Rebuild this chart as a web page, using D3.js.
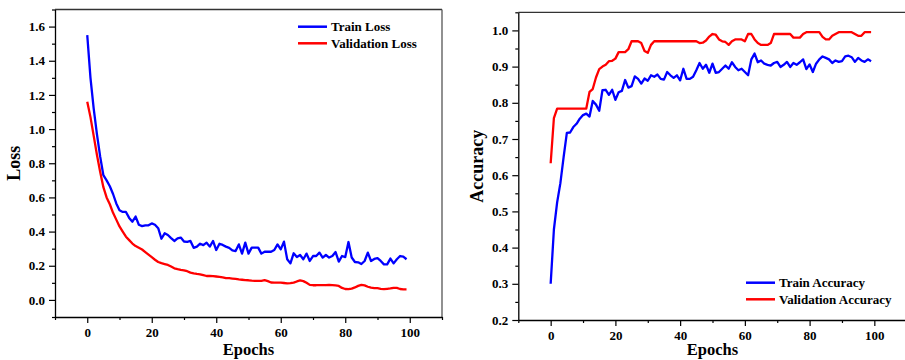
<!DOCTYPE html>
<html>
<head>
<meta charset="utf-8">
<script src="https://cdn.jsdelivr.net/npm/d3@7"></script>
<style>
  html, body { margin: 0; padding: 0; background: #fff; }
  svg { display: block; }
  text { font-family: "Liberation Serif", "Times New Roman", serif; font-weight: bold; fill: #000; }
</style>
</head>
<body>
<svg id="chart" width="905" height="360"></svg>
<script>
// Training history, one value per epoch (0..99)
const epochs = d3.range(0, 100);

const trainLoss = [
  1.55, 1.30, 1.12, 0.97, 0.84, 0.73, 0.70, 0.665, 0.62, 0.565,
  0.525, 0.515, 0.515, 0.48, 0.458, 0.488, 0.44, 0.432, 0.436, 0.437,
  0.448, 0.44, 0.42, 0.358, 0.39, 0.38, 0.362, 0.345, 0.36, 0.365,
  0.342, 0.34, 0.345, 0.305, 0.312, 0.329, 0.321, 0.335, 0.312, 0.345,
  0.292, 0.329, 0.322, 0.312, 0.305, 0.29, 0.286, 0.325, 0.271, 0.335,
  0.271, 0.306, 0.306, 0.306, 0.271, 0.282, 0.282, 0.282, 0.292, 0.325,
  0.296, 0.341, 0.238, 0.214, 0.273, 0.251, 0.263, 0.238, 0.271, 0.228,
  0.257, 0.257, 0.277, 0.248, 0.263, 0.248, 0.257, 0.28, 0.224, 0.257,
  0.251, 0.339, 0.248, 0.222, 0.22, 0.21, 0.228, 0.277, 0.228, 0.24,
  0.245, 0.228, 0.208, 0.208, 0.242, 0.214, 0.238, 0.257, 0.253, 0.238
];

const valLoss = [
  1.16, 1.07, 0.96, 0.85, 0.75, 0.66, 0.60, 0.56, 0.51, 0.47,
  0.43, 0.40, 0.37, 0.35, 0.33, 0.315, 0.305, 0.295, 0.28, 0.265,
  0.25, 0.235, 0.222, 0.215, 0.21, 0.205, 0.195, 0.185, 0.18, 0.176,
  0.173, 0.168, 0.16, 0.155, 0.152, 0.15, 0.145, 0.14, 0.14, 0.139,
  0.137, 0.135, 0.132, 0.128, 0.127, 0.125, 0.123, 0.12, 0.118, 0.116,
  0.115, 0.113, 0.112, 0.111, 0.112, 0.116, 0.11, 0.102, 0.101, 0.101,
  0.101, 0.099, 0.097, 0.098, 0.101, 0.108, 0.114, 0.11, 0.10, 0.088,
  0.086, 0.086, 0.087, 0.087, 0.086, 0.088, 0.087, 0.085, 0.082, 0.07,
  0.064, 0.063, 0.066, 0.073, 0.082, 0.088, 0.085, 0.077, 0.072, 0.069,
  0.069, 0.065, 0.063, 0.065, 0.067, 0.071, 0.07, 0.064, 0.062, 0.062
];

const trainAcc = [
  0.30, 0.45, 0.525, 0.578, 0.65, 0.717, 0.718, 0.733, 0.742, 0.756,
  0.766, 0.77, 0.762, 0.805, 0.795, 0.778, 0.835, 0.836, 0.822, 0.836,
  0.808, 0.829, 0.833, 0.863, 0.842, 0.846, 0.873, 0.866, 0.853, 0.867,
  0.861, 0.876, 0.872, 0.878, 0.866, 0.864, 0.885, 0.876, 0.869, 0.876,
  0.862, 0.894, 0.866, 0.866, 0.872, 0.89, 0.91, 0.894, 0.905, 0.883,
  0.908, 0.883, 0.885, 0.894, 0.903, 0.894, 0.912, 0.899, 0.89, 0.894,
  0.885, 0.876, 0.92, 0.936, 0.912, 0.917, 0.908, 0.905, 0.903, 0.91,
  0.913, 0.899, 0.905, 0.913, 0.899, 0.91, 0.905, 0.912, 0.92, 0.893,
  0.906, 0.885, 0.908, 0.92, 0.928, 0.924, 0.92, 0.91, 0.917, 0.913,
  0.915, 0.928, 0.93, 0.926, 0.913, 0.924, 0.917, 0.913, 0.92, 0.915
];

const valAcc = [
  0.633, 0.758, 0.784, 0.784, 0.784, 0.784, 0.784, 0.784, 0.784, 0.784,
  0.784, 0.784, 0.83, 0.838, 0.87, 0.893, 0.90, 0.905, 0.915, 0.916,
  0.922, 0.94, 0.94, 0.94, 0.948, 0.97, 0.97, 0.97, 0.965, 0.943,
  0.938, 0.96, 0.97, 0.97, 0.97, 0.97, 0.97, 0.97, 0.97, 0.97,
  0.97, 0.97, 0.97, 0.97, 0.97, 0.97, 0.965, 0.966, 0.972, 0.983,
  0.99, 0.988, 0.975, 0.97, 0.968, 0.96, 0.97, 0.975, 0.975, 0.975,
  0.97, 0.99, 0.99, 0.975, 0.965, 0.96, 0.96, 0.96, 0.965, 0.99,
  0.99, 0.99, 0.99, 0.99, 0.99, 0.98, 0.98, 0.98, 0.99, 0.995,
  0.995, 0.995, 0.995, 0.995, 0.982, 0.975, 0.975, 0.985, 0.99, 0.995,
  0.995, 0.995, 0.995, 0.995, 0.99, 0.985, 0.985, 0.995, 0.995, 0.995
];

const xTicks = [0, 20, 40, 60, 80, 100];
const xMinorTicks = [-10, 10, 30, 50, 70, 90, 110];
const lossTicks = [0.0, 0.2, 0.4, 0.6, 0.8, 1.0, 1.2, 1.4, 1.6];
const lossMinorTicks = [-0.1, 0.1, 0.3, 0.5, 0.7, 0.9, 1.1, 1.3, 1.5, 1.7];
const accTicks = [0.2, 0.3, 0.4, 0.5, 0.6, 0.7, 0.8, 0.9, 1.0];
const accMinorTicks = [0.25, 0.35, 0.45, 0.55, 0.65, 0.75, 0.85, 0.95, 1.05];

const BLUE = "#0000ff";
const RED = "#ff0000";

const svg = d3.select("#chart");

function drawPanel(cfg) {
  const { left, right, top, bottom, yDomain, yTicks, yMinor, yTitle, series, legend } = cfg;
  const x = d3.scaleLinear().domain([-10, 110]).range([left, right]);
  const y = d3.scaleLinear().domain(yDomain).range([bottom, top]);
  const g = svg.append("g");

  // frame: top and right edges
  g.append("line").attr("x1", left).attr("x2", right).attr("y1", top).attr("y2", top)
    .attr("stroke", "#333").attr("stroke-width", 1.3);
  g.append("line").attr("x1", right).attr("x2", right).attr("y1", top).attr("y2", bottom)
    .attr("stroke", "#555").attr("stroke-width", 1.3);

  // minor ticks
  g.append("g").attr("transform", `translate(0,${bottom})`)
    .call(d3.axisBottom(x).tickValues(xMinorTicks).tickSize(3).tickFormat(""))
    .call(a => a.select(".domain").remove())
    .call(a => a.selectAll("line").attr("stroke", "#000").attr("stroke-width", 1.2));
  g.append("g").attr("transform", `translate(${left},0)`)
    .call(d3.axisLeft(y).tickValues(yMinor).tickSize(3).tickFormat(""))
    .call(a => a.select(".domain").remove())
    .call(a => a.selectAll("line").attr("stroke", "#000").attr("stroke-width", 1.2));

  // major axes
  const xa = g.append("g").attr("transform", `translate(0,${bottom})`)
    .call(d3.axisBottom(x).tickValues(xTicks).tickSize(6).tickSizeOuter(0).tickPadding(5).tickFormat(d3.format("d")));
  const ya = g.append("g").attr("transform", `translate(${left},0)`)
    .call(d3.axisLeft(y).tickValues(yTicks).tickSize(6).tickSizeOuter(0).tickPadding(4).tickFormat(d3.format(".1f")));
  [xa, ya].forEach(a => {
    a.select(".domain").attr("stroke", "#000").attr("stroke-width", 1.3);
    a.selectAll(".tick line").attr("stroke", "#000").attr("stroke-width", 1.2);
    a.selectAll(".tick text").attr("font-family", "Liberation Serif").attr("font-weight", "bold")
      .attr("font-size", 13).attr("fill", "#000");
  });

  // axis titles
  g.append("text").attr("x", x(50)).attr("y", cfg.xTitleY)
    .attr("text-anchor", "middle").attr("font-size", 16.5).text("Epochs");
  g.append("text")
    .attr("transform", `translate(${cfg.yTitleX},${(top + bottom) / 2}) rotate(-90)`)
    .attr("text-anchor", "middle").attr("font-size", 18).text(yTitle);

  // series lines
  const clipId = "clip-" + yTitle;
  svg.append("clipPath").attr("id", clipId).append("rect")
    .attr("x", left).attr("y", top).attr("width", right - left).attr("height", bottom - top);
  const line = vals => d3.line().x((d, i) => x(epochs[i])).y(d => y(d))(vals);
  series.forEach(s => {
    g.append("path").attr("d", line(s.values)).attr("fill", "none")
      .attr("stroke", s.color).attr("stroke-width", 2.3)
      .attr("stroke-linejoin", "round").attr("clip-path", `url(#${clipId})`);
  });

  // legend
  series.forEach((s, i) => {
    const ly = legend.y + i * 16.6;
    g.append("line").attr("x1", legend.x).attr("x2", legend.x + 29)
      .attr("y1", ly).attr("y2", ly).attr("stroke", s.color).attr("stroke-width", 2.5);
    g.append("text").attr("x", legend.x + 33).attr("y", ly + 4.5)
      .attr("font-size", 13).text(s.name);
  });
}

drawPanel({
  left: 55, right: 442, top: 9.5, bottom: 317,
  yDomain: [-0.1, 1.7], yTicks: lossTicks, yMinor: lossMinorTicks,
  yTitle: "Loss", yTitleX: 20, xTitleY: 355,
  series: [
    { name: "Train Loss", values: trainLoss, color: BLUE },
    { name: "Validation Loss", values: valLoss, color: RED }
  ],
  legend: { x: 298, y: 26.7 }
});

drawPanel({
  left: 518.3, right: 906.7, top: 12.3, bottom: 320,
  yDomain: [0.2, 1.05], yTicks: accTicks, yMinor: accMinorTicks,
  yTitle: "Accuracy", yTitleX: 483, xTitleY: 355,
  series: [
    { name: "Train Accuracy", values: trainAcc, color: BLUE },
    { name: "Validation Accuracy", values: valAcc, color: RED }
  ],
  legend: { x: 746, y: 282.7 }
});
</script>
</body>
</html>
